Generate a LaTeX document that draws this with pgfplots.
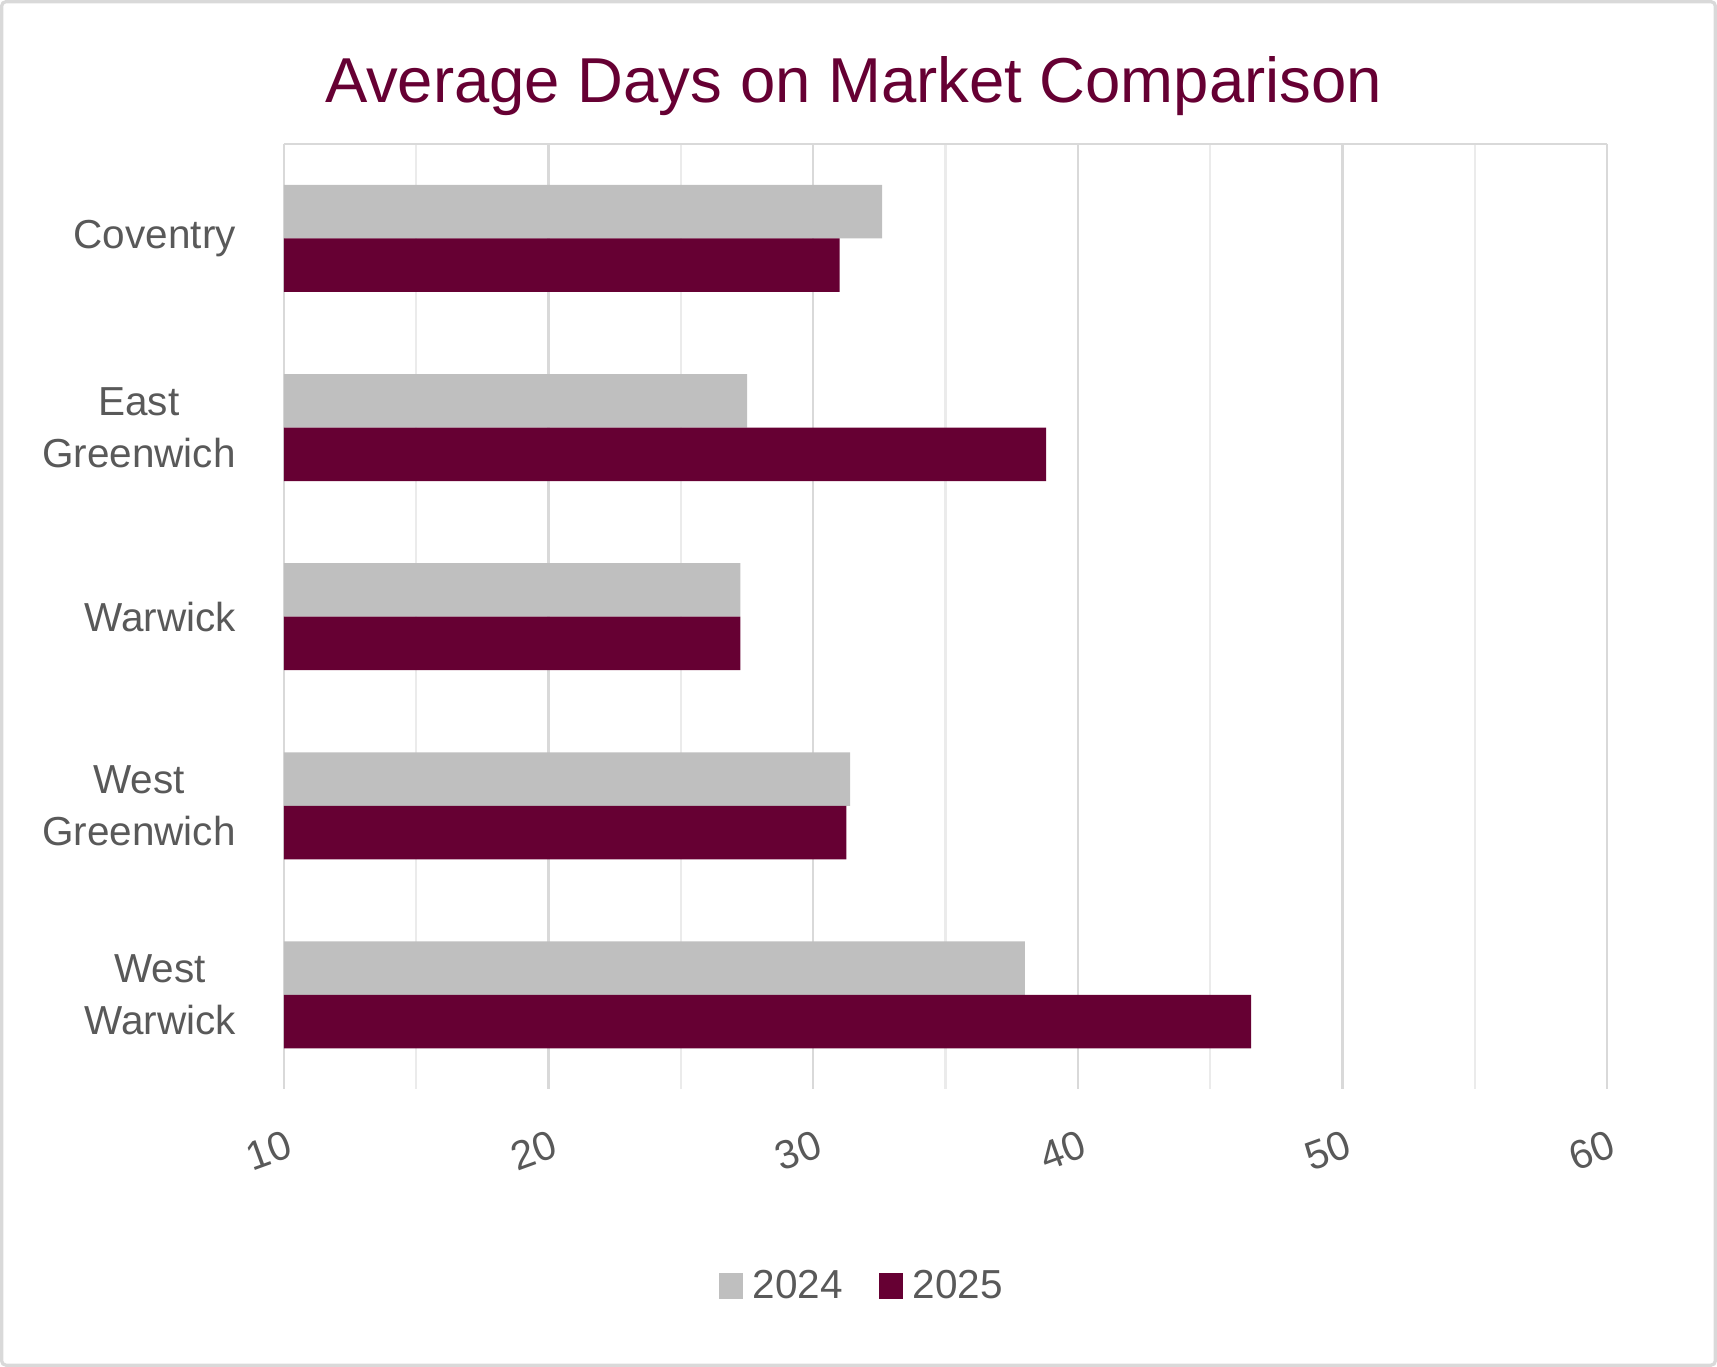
\documentclass[border=0pt]{standalone}
\usepackage{pgfplots}
\pgfplotsset{compat=1.18}
\usepackage{fontspec}
\setmainfont{Liberation Sans}
\definecolor{maroon}{HTML}{660033}
\definecolor{lgray}{HTML}{BFBFBF}
\definecolor{txt}{HTML}{595959}
\definecolor{gridmaj}{HTML}{D9D9D9}
\definecolor{gridmin}{HTML}{EBEBEB}
\begin{document}
\begin{tikzpicture}
\draw[gridmaj,line width=1.5pt,rounded corners=2pt] (0.5pt,-0.5pt) rectangle (783.5pt,-623.5pt);
\node[anchor=base,text=maroon,font=\fontsize{29}{34}\selectfont] at (389.75pt,-46.5pt) {Average Days on Market Comparison};
\begin{axis}[
  at={(129.5pt,-497.5pt)}, anchor=south west,
  scale only axis, width=604.5pt, height=432pt,
  xbar, bar width=0.283,
  xmin=10, xmax=60, ymin=-0.5, ymax=4.5,
  y dir=reverse,
  ytick={0,1,2,3,4},
  yticklabels={Coventry,{East\\Greenwich},Warwick,{West\\Greenwich},{West\\Warwick}},
  xtick={10,20,30,40,50,60},
  minor xtick={15,25,35,45,55},
  xmajorgrids, xminorgrids,
  major grid style={gridmaj,line width=1pt},
  minor grid style={gridmin,line width=1pt},
  axis y line*=left, axis x line*=bottom,
  y axis line style={gridmaj,line width=1.2pt},
  x axis line style={draw=none},
  major tick length=0pt, minor tick length=0pt,
  tick style={draw=none},
  xticklabel style={rotate=20,anchor=center,xshift=-16pt,yshift=-24pt,text=txt,font=\fontsize{18.5}{24}\selectfont},
  yticklabel style={align=center,text=txt,font=\fontsize{18.5}{24}\selectfont,xshift=-18.5pt},
  /pgf/number format/assume math mode=true,
  legend style={at={(0.4375,-0.208)},anchor=center,legend columns=2,draw=none,
    font=\fontsize{18.5}{24}\selectfont,text=txt,
    /tikz/every odd column/.append style={column sep=2.5pt},
    /tikz/every even column/.append style={column sep=14.5pt}},
  legend image code/.code={\fill[#1] (0pt,-6pt) rectangle (11pt,6pt);},
  clip=false,
]
\addplot[draw=none,fill=lgray,bar shift=-0.1415] coordinates {(32.6,0) (27.5,1) (27.25,2) (31.4,3) (38.0,4)};
\addplot[draw=none,fill=maroon,bar shift=0.1415] coordinates {(31.0,0) (38.8,1) (27.25,2) (31.25,3) (46.55,4)};
\legend{2024,2025}
\draw[gridmaj,line width=1pt] (axis cs:10,-0.5) -- (axis cs:60,-0.5);
\end{axis}
\end{tikzpicture}
\end{document}
